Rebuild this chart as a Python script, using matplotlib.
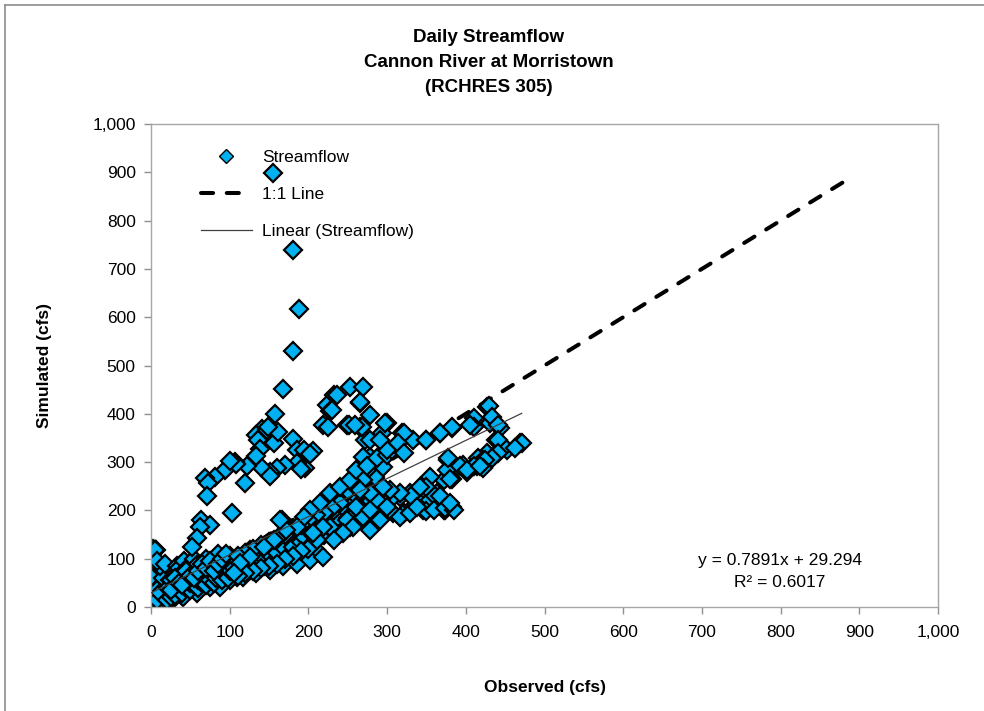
import matplotlib
matplotlib.use("Agg")
import matplotlib.pyplot as plt
from matplotlib.lines import Line2D
from matplotlib.ticker import FuncFormatter

plt.rcParams['font.family'] = ['Liberation Sans', 'DejaVu Sans']

# observed / simulated daily streamflow (cfs)
observed = [
    # near the origin
    0, 1, 2, 0, 3, 5, 2, 4, 1, 6, 8, 10, 3, 0, 2, 4, 1, 3, 6, 0, 7, 9, 12, 12, 15,
    14, 18, 20, 16, 10, 5, 0, 13, 11, 7, 5, 19, 17, 0, 3, 0, 0, 5, 7, 20, 7,
    15, 12, 8,
    # main lower band
    24, 41, 58, 75, 92, 109, 126, 143, 160, 177, 194, 210, 227, 240,
    24, 41, 58, 75, 92, 109, 126, 143, 160, 177, 194, 210,
    11, 100, 121, 138, 151, 164, 176, 189, 202, 215,
    92, 109, 126, 143, 160, 177, 194, 210,
    41, 58, 75, 88, 100, 117, 134, 151, 168, 185, 202, 219,
    30, 18, 33,
    20, 22, 25, 25, 28, 30, 30, 32, 35, 35, 38, 40, 40, 42, 45, 45, 48, 50, 50, 52,
    55, 55, 58, 60, 60, 60, 65, 65, 68, 70, 70, 72, 75, 75, 78, 80, 80, 82, 85, 85,
    88, 90, 90, 92, 95, 95, 98, 100, 100, 100,
    25, 30, 35, 40, 45, 50, 55, 60, 65, 70, 75, 80, 85, 90, 95,
    105, 110, 115, 120, 125, 130, 135, 140, 145, 150, 155, 160, 165, 170, 175, 180,
    185, 190, 195, 200, 205, 210, 215, 220, 225, 230, 235, 240, 245, 250, 255, 260,
    265, 270, 275, 280, 285, 290, 295, 260, 250, 240, 230, 220, 210, 200, 190, 180,
    170, 160, 150, 140, 130, 120, 110, 200, 190, 180, 170, 160, 150, 140, 130, 120, 110,
    # upper branch (first peak)
    168, 158, 141, 134, 147, 136, 156, 162, 181, 185, 194, 206, 196, 185, 170, 160,
    151, 141, 122, 107, 94, 81, 69, 73, 71, 119, 103, 64, 75, 62, 58, 52, 166,
    155, 180, 188, 180,
    149, 138, 134, 202, 191, 151, 108, 100,
    # second peak
    223, 232, 253, 270, 266, 228, 219, 249, 266, 278, 272, 278, 274, 270, 261, 278,
    261, 283, 270, 253, 278, 240, 228, 211, 228, 240, 236, 266, 230, 225, 251, 268,
    300, 293, 278, 270, 287, 300, 306,
    # right hand cloud
    319, 333, 350, 367, 382, 408, 427, 431, 444, 439, 469, 452, 427, 416, 401, 397,
    378, 382, 363, 350, 338, 329, 316, 304, 300, 283, 270, 261, 249, 215, 202, 194,
    185, 172, 164, 156, 143, 126, 113, 105, 257, 244, 232, 219, 206, 291, 308, 321,
    333, 346, 355, 372, 372, 376, 393, 414, 422, 435, 448,
    429, 433, 410, 410, 441, 382, 367, 350, 441, 471, 462, 441, 433, 424, 378, 410,
    401, 422, 355, 380, 350, 361, 374, 382, 350,
    259, 297, 321, 405, 418, 342, 367, 376, 359, 331, 316, 304, 295, 287, 278, 266,
    253, 261, 274, 300, 291, 314, 321, 278, 300, 316, 329, 338,
    373, 385, 380,
]
simulated = [
    5, 10, 15, 20, 8, 12, 25, 30, 40, 20, 15, 25, 50, 65, 75, 85, 110, 120, 118, 98, 45, 35, 30, 18, 22,
    40, 28, 35, 12, 5, 2, 0, 55, 70, 80, 118, 14, 45, 108, 80, 63, 15, 118, 35, 28, 15,
    60, 85, 95,
    15, 21, 28, 42, 49, 63, 77, 84, 97, 111, 125, 139, 166, 153,
    56, 56, 70, 77, 90, 104, 118, 125, 139, 153, 166, 180,
    28, 97, 111, 118, 125, 125, 132, 139, 146, 153,
    70, 77, 84, 90, 97, 104, 111, 118,
    35, 49, 60, 42, 56, 63, 70, 77, 84, 90, 97, 104,
    20, 90, 84,
    15, 40, 20, 55, 30, 25, 45, 60, 35, 80, 50, 30, 70, 95, 40, 60, 85, 35, 50, 75,
    45, 100, 65, 40, 55, 90, 50, 75, 60, 45, 100, 65, 55, 80, 70, 50, 90, 60, 75, 110,
    65, 80, 55, 95, 70, 85, 60, 75, 90, 105,
    35, 60, 50, 45, 75, 65, 60, 75, 90, 80, 95, 75, 90, 100, 110,
    80, 95, 88, 100, 110, 95, 105, 115, 100, 110, 120, 112, 130, 120, 140, 125,
    150, 135, 145, 160, 130, 160, 175, 150, 185, 160, 195, 175, 205, 185, 215, 195,
    230, 205, 250, 220, 270, 240, 290, 230, 240, 215, 205, 195, 190, 180, 170, 160,
    150, 140, 135, 128, 120, 112, 105, 120, 115, 105, 100, 90, 85, 80, 75, 70, 65,
    451, 399, 368, 356, 367, 346, 339, 363, 347, 325, 325, 322, 287, 298, 294, 287,
    280, 287, 291, 301, 284, 270, 267, 256, 229, 256, 194, 180, 170, 166, 142, 125, 180,
    898, 739, 617, 529,
    373, 327, 313, 317, 285, 271, 296, 303,
    418, 439, 456, 456, 422, 405, 377, 377, 373, 398, 346, 311, 284, 263, 249, 235,
    208, 201, 180, 166, 160, 153, 166, 139, 235, 249, 439, 425, 408, 373, 377, 373,
    380, 360, 346, 311, 308, 315, 325,
    360, 346, 346, 360, 370, 377, 415, 380, 370, 346, 339, 325, 318, 308, 280, 294,
    304, 266, 235, 228, 222, 235, 228, 222, 201, 194, 187, 208, 180, 215, 201, 187,
    166, 160, 180, 139, 125, 104, 91, 70, 166, 153, 139, 166, 153, 180, 194, 194,
    208, 201, 222, 201, 263, 284, 291, 291, 304, 311, 332,
    416, 394, 391, 373, 377, 373, 360, 346, 346, 339, 329, 318, 308, 304, 308, 291,
    284, 287, 270, 266, 249, 229, 201, 208, 198,
    377, 380, 360, 377, 291, 249, 229, 208, 201, 229, 235, 242, 249, 222, 235, 242,
    263, 284, 291, 325, 346, 339, 318, 201, 208, 187, 194, 208,
    205, 200, 215,
]

# 1:1 line and Excel linear trendline
one_to_one = [0, 885]
slope, intercept, r2 = 0.7891, 29.294, 0.6017
trend_x = [0, max(observed)]
trend_y = [slope * v + intercept for v in trend_x]

x_ticks = list(range(0, 1001, 100))
y_ticks = list(range(0, 1001, 100))

fig = plt.figure(figsize=(9.84, 7.11), dpi=100)
ax = fig.add_axes([151 / 984, 104 / 711, 787 / 984, 483 / 711])

ax.plot(one_to_one, one_to_one, color='black', lw=2.9, dashes=(3.0, 3.4),
        dash_capstyle='round', label='1:1 Line', zorder=1)
ax.plot(observed, simulated, 'D', ms=9.3, mfc='#00B0F0', mec='black', mew=1.6,
        label='Streamflow', zorder=2)
ax.plot(trend_x, trend_y, color='#404040', lw=0.9, label='Linear (Streamflow)', zorder=3)

ax.set_xlim(0, 1000)
ax.set_ylim(0, 1000)
ax.set_xticks(x_ticks)
ax.set_yticks(y_ticks)
fmt = FuncFormatter(lambda v, p: '{:,.0f}'.format(v))
ax.xaxis.set_major_formatter(fmt)
ax.yaxis.set_major_formatter(fmt)
ax.tick_params(axis='both', direction='out', length=5, width=1, color='#909090',
               labelsize=12.5, labelcolor='black')
ax.tick_params(axis='x', pad=8)
ax.tick_params(axis='y', pad=6)
for s in ax.spines.values():
    s.set_color('#A6A6A6')
    s.set_linewidth(1)

ax.set_xlabel('Observed (cfs)', fontsize=12.5, fontweight='bold')
ax.set_ylabel('Simulated (cfs)', fontsize=12.5, fontweight='bold')
ax.xaxis.set_label_coords(0.5, -0.166)
ax.yaxis.set_label_coords(-0.135, 0.5)
ax.xaxis.label.set_va('center')
ax.yaxis.label.set_va('center')

h, l = ax.get_legend_handles_labels()
order = [1, 0, 2]
leg = ax.legend([h[i] for i in order], [l[i] for i in order], loc='upper left',
                bbox_to_anchor=(0.055, 0.96), frameon=False, fontsize=12.5,
                labelspacing=1.25, handlelength=2.9, handletextpad=0.6,
                markerscale=0.72, borderaxespad=0)
leg.legend_handles[0].set_markeredgewidth(1.0)

ax.text(799, 74, 'y = 0.7891x + 29.294\nR² = 0.6017', ha='center', va='center',
        fontsize=12.5, linespacing=1.55)

fig.text(0.497, 0.912, 'Daily Streamflow\nCannon River at Morristown\n(RCHRES 305)',
         ha='center', va='center', fontsize=13.5, fontweight='bold', linespacing=1.6)

# outer chart-area border (left and top edges visible)
fig.add_artist(Line2D([4.5 / 984, 4.5 / 984], [0, 1 - 4.5 / 711], transform=fig.transFigure,
                      color='#8C8C8C', lw=1.2))
fig.add_artist(Line2D([4.5 / 984, 1], [1 - 4.5 / 711, 1 - 4.5 / 711], transform=fig.transFigure,
                      color='#8C8C8C', lw=1.2))

fig.savefig('out.png', dpi=100, facecolor='white')
